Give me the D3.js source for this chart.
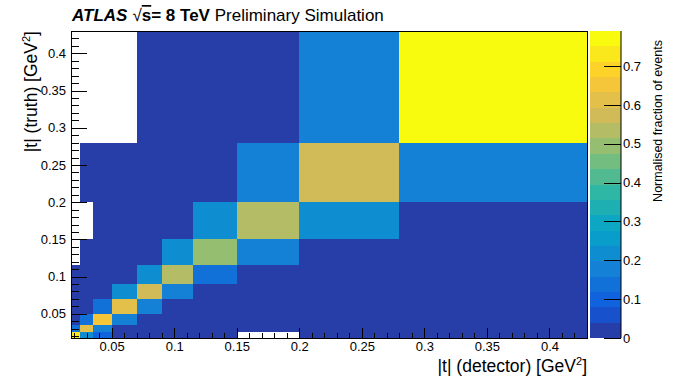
<!DOCTYPE html>
<html>
<head>
<meta charset="utf-8">
<script src="https://cdn.jsdelivr.net/npm/d3@7"></script>
<style>
  body { margin: 0; background: #fff; }
  svg text { font-family: "Liberation Sans", Arial, sans-serif; fill: #000; }
</style>
</head>
<body>
<script>
//-----------------Data----------------

// variable bin edges, same binning on both axes
const xEdges = [0.0175, 0.025, 0.035, 0.05, 0.07, 0.09, 0.115, 0.15, 0.2, 0.28, 0.43];
const yEdges = [0.0175, 0.025, 0.035, 0.05, 0.07, 0.09, 0.115, 0.15, 0.2, 0.28, 0.43];

// normalised fraction per cell, one row per truth bin (bottom to top), null = empty
const fractions = [
  [0.72, 0.22, 0.10, 0.02, 0.02, 0.02, 0.02, null, 0.01, 0.01],
  [0.15, 0.60, 0.19, 0.02, 0.02, 0.02, 0.02, 0.01, 0.01, 0.01],
  [0.02, 0.14, 0.65, 0.18, 0.02, 0.02, 0.02, 0.02, 0.01, 0.01],
  [0.02, 0.02, 0.13, 0.61, 0.17, 0.02, 0.02, 0.02, 0.01, 0.01],
  [0.02, 0.02, 0.02, 0.20, 0.57, 0.17, 0.02, 0.02, 0.01, 0.01],
  [0.02, 0.02, 0.02, 0.02, 0.22, 0.54, 0.15, 0.02, 0.01, 0.01],
  [null, 0.02, 0.02, 0.02, 0.02, 0.23, 0.48, 0.18, 0.02, 0.01],
  [null, null, 0.02, 0.02, 0.02, 0.02, 0.21, 0.53, 0.21, 0.02],
  [null, 0.02, 0.02, 0.02, 0.02, 0.02, 0.02, 0.17, 0.58, 0.17],
  [null, null, null, null, 0.02, 0.02, 0.02, 0.02, 0.17, 0.79]
];

const xTickValues = [0.05, 0.1, 0.15, 0.2, 0.25, 0.3, 0.35, 0.4];
const yTickValues = [0.05, 0.1, 0.15, 0.2, 0.25, 0.3, 0.35, 0.4];
const zTickValues = [0, 0.1, 0.2, 0.3, 0.4, 0.5, 0.6, 0.7];

//-----------------Palette (ROOT kBird, 20 contours)----------------

const birdStops = [0, 0.125, 0.25, 0.375, 0.5, 0.625, 0.75, 0.875, 1];
const birdRed = [0.2082, 0.0592, 0.0780, 0.0232, 0.1802, 0.5301, 0.8186, 0.9956, 0.9764];
const birdGreen = [0.1664, 0.3599, 0.5041, 0.6419, 0.7178, 0.7492, 0.7328, 0.7862, 0.9832];
const birdBlue = [0.5293, 0.8684, 0.8385, 0.7914, 0.6425, 0.4662, 0.3499, 0.1968, 0.0539];
const nContours = 20;

const birdScale = d3
  .scaleLinear()
  .domain(birdStops)
  .range(birdStops.map((s, i) => d3.rgb(birdRed[i] * 255, birdGreen[i] * 255, birdBlue[i] * 255)))
  .interpolate(d3.interpolateRgb);

const zMax = d3.max(fractions.flat());

function bandColor(band) {
  const idx = Math.floor((band + 0.99) * 255 / nContours);
  return birdScale(idx / 254);
}

function cellColor(v) {
  let band = Math.floor(0.01 + v * nContours / zMax);
  if (band >= nContours) band = nContours - 1;
  return bandColor(band);
}

//-----------------Main svg----------------

const width = 679;
const height = 376;
const plot = { left: 71, right: 587, top: 31, bottom: 338 };
const bar = { left: 590, right: 621 };

const svg = d3.select("body").append("svg").attr("width", width).attr("height", height);

const x = d3.scaleLinear().domain([xEdges[0], xEdges[xEdges.length - 1]]).range([plot.left, plot.right]);
const y = d3.scaleLinear().domain([yEdges[0], yEdges[yEdges.length - 1]]).range([plot.bottom, plot.top]);

//-----------------Cells----------------

const cells = [];
fractions.forEach((row, j) => {
  row.forEach((v, i) => {
    if (v !== null) cells.push({ i, j, v });
  });
});

svg
  .append("g")
  .selectAll("rect")
  .data(cells)
  .enter()
  .append("rect")
  .attr("x", (d) => x(xEdges[d.i]))
  .attr("y", (d) => y(yEdges[d.j + 1]))
  .attr("width", (d) => x(xEdges[d.i + 1]) - x(xEdges[d.i]))
  .attr("height", (d) => y(yEdges[d.j]) - y(yEdges[d.j + 1]))
  .attr("fill", (d) => cellColor(d.v))
  .attr("shape-rendering", "crispEdges");

//-----------------Axes----------------

const fmt = (d) => String(+d.toFixed(2));
const minorTicks = d3.range(2, 44).map((k) => k / 100);

const xMinor = svg
  .append("g")
  .attr("transform", `translate(0, ${plot.bottom})`)
  .call(d3.axisBottom(x).tickValues(minorTicks).tickSize(-5).tickFormat(""));

const xAxis = svg
  .append("g")
  .attr("transform", `translate(0, ${plot.bottom})`)
  .call(d3.axisBottom(x).tickValues(xTickValues).tickSize(-10).tickPadding(4).tickFormat(fmt));

const yMinor = svg
  .append("g")
  .attr("transform", `translate(${plot.left}, 0)`)
  .call(d3.axisLeft(y).tickValues(minorTicks).tickSize(-8).tickFormat(""));

const yAxis = svg
  .append("g")
  .attr("transform", `translate(${plot.left}, 0)`)
  .call(d3.axisLeft(y).tickValues(yTickValues).tickSize(-16).tickPadding(5).tickFormat(fmt));

[xMinor, xAxis, yMinor, yAxis].forEach((g) => {
  g.select(".domain").remove();
  g.selectAll("line").attr("stroke", "#000").attr("shape-rendering", "crispEdges");
  g.selectAll("text").style("font-size", "13px").attr("fill", "#000");
});

// frame
svg
  .append("rect")
  .attr("x", plot.left)
  .attr("y", plot.top)
  .attr("width", plot.right - plot.left)
  .attr("height", plot.bottom - plot.top)
  .attr("fill", "none")
  .attr("stroke", "#000")
  .attr("stroke-width", 1)
  .attr("shape-rendering", "crispEdges");

svg
  .append("text")
  .attr("x", plot.right)
  .attr("y", 372)
  .attr("text-anchor", "end")
  .style("font-size", "17.5px")
  .html('|t| (detector) [GeV<tspan dy="-7" style="font-size:11px">2</tspan><tspan dy="7">]</tspan>');

svg
  .append("text")
  .attr("transform", `translate(37, ${plot.top}) rotate(-90)`)
  .attr("text-anchor", "end")
  .style("font-size", "17.5px")
  .html('|t| (truth) [GeV<tspan dy="-7" style="font-size:11px">2</tspan><tspan dy="7">]</tspan>');

//-----------------Colour bar----------------

const z = d3.scaleLinear().domain([0, zMax]).range([plot.bottom, plot.top]);

svg
  .append("g")
  .selectAll("rect")
  .data(d3.range(nContours))
  .enter()
  .append("rect")
  .attr("x", bar.left)
  .attr("width", bar.right - bar.left)
  .attr("y", (b) => z(((b + 1) * zMax) / nContours))
  .attr("height", (b) => z((b * zMax) / nContours) - z(((b + 1) * zMax) / nContours))
  .attr("fill", (b) => bandColor(b))
  .attr("shape-rendering", "crispEdges");

const zAxis = svg
  .append("g")
  .attr("transform", `translate(${bar.right}, 0)`)
  .call(d3.axisRight(z).tickValues(zTickValues).tickSize(-17).tickPadding(2).tickFormat(fmt));

zAxis.select(".domain").attr("stroke", "#000").attr("d", `M0,${plot.top}V${plot.bottom}`);
zAxis.selectAll("line").attr("stroke", "#000").attr("shape-rendering", "crispEdges");
zAxis.selectAll("text").style("font-size", "13px").attr("fill", "#000");

svg
  .append("text")
  .attr("transform", `translate(662, 40) rotate(-90)`)
  .attr("text-anchor", "end")
  .style("font-size", "12.5px")
  .text("Normalised fraction of events");

//-----------------Header----------------

const title = svg.append("text").attr("x", 72).attr("y", 21).style("font-size", "17px");
title.append("tspan").style("font-weight", "bold").style("font-style", "italic").text("ATLAS");
title.append("tspan").attr("dx", 5).text("√");
title.append("tspan").style("font-weight", "bold").style("text-decoration", "overline").text("s");
title.append("tspan").style("font-weight", "bold").text("= 8 TeV");
title.append("tspan").text(" Preliminary Simulation");
</script>
</body>
</html>
